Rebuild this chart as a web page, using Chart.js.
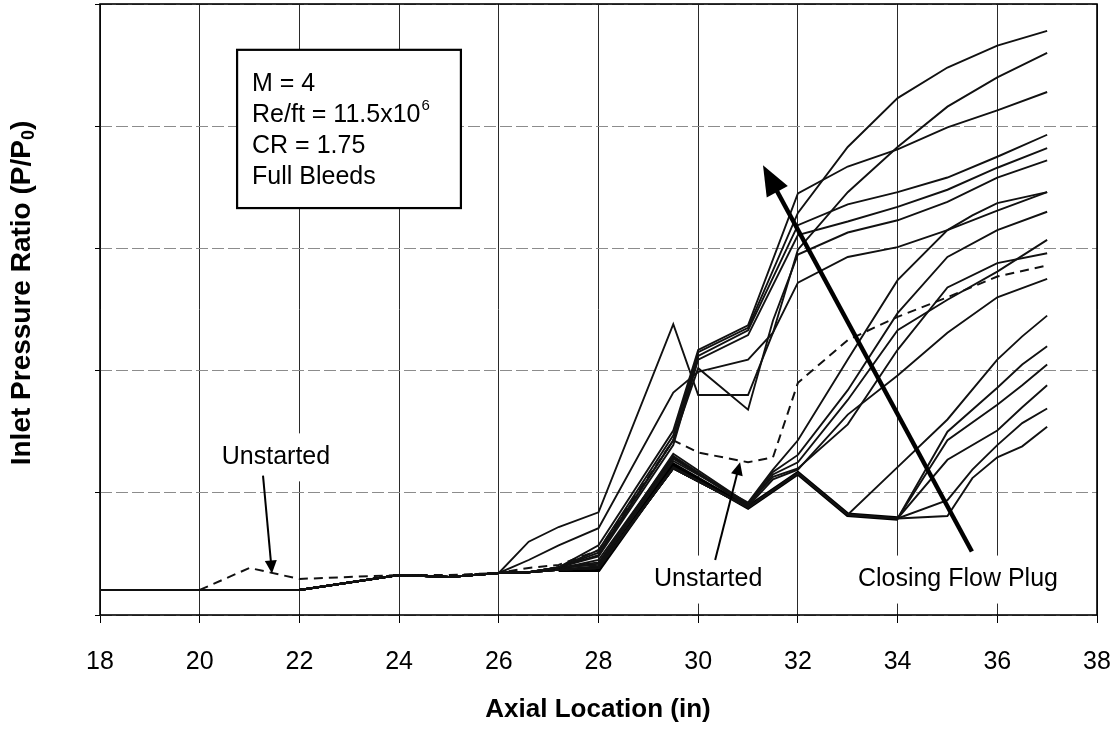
<!DOCTYPE html>
<html>
<head>
<meta charset="utf-8">
<script src="https://cdn.jsdelivr.net/npm/chart.js@4.4.0/dist/chart.umd.min.js"></script>
<style>
  html, body { margin: 0; padding: 0; background: #fff; }
  #plot { display: block; }
</style>
</head>
<body>
<canvas id="plot" width="1119" height="734"></canvas>
<script>
// axial stations (in) shared by all runs
const axialIn = [18, 20, 21, 22, 24, 25, 26, 26.6, 27.2, 28, 29.5, 30, 31, 31.5, 32, 33, 34, 35, 35.5, 36, 36.5, 37];
const xTicks = [18, 20, 22, 24, 26, 28, 30, 32, 34, 36, 38];

// P/P0 (arbitrary units, axis is unlabelled) upstream of 26.6 in, common to every solid run
const baseRun = [2.05, 2.05, null, 2.05, 3.27, 3.11, 3.44];

// runs from 26.6 in onward:  26.6 27.2 28 29.5 30 31 31.5 32 33 34 35 35.5 36 36.5 37
const startedRun = [null, 3.7, 3.7, 12.3, null, 8.8, null, 11.6, 8.2, 7.9, null, null, null, null, null];
const plugT1 = [3.5, 3.9, 5.7, 15.1, 21.7, 23.7, null, 34.5, 36.7, 38.1, 39.9, null, 41.3, null, 42.8];
const plugT2 = [3.5, 3.9, 5.3, 14.7, 21.5, 23.5, null, 32.9, 38.3, 42.3, 44.8, null, 46.6, null, 47.8];
const plugT3 = [3.5, 3.9, 5.1, 14.3, 21.2, 23.3, null, 31.9, 33.6, 34.6, 35.8, null, 37.5, null, 39.3];
const plugT4 = [3.5, 3.9, 4.8, 13.9, 20.9, 22.9, null, 31.1, 32.2, 33.4, 34.8, null, 36.6, null, 38.2];
const plugP = [6.0, 7.2, 8.4, 23.8, 18.0, 18.0, 23.1, 29.9, 34.6, 38.3, 41.6, null, 44.0, null, 46.0];
const plugQ = [4.5, 5.7, 7.1, 18.2, 19.9, 20.9, 23.1, 27.2, 29.3, 30.1, 31.5, null, 33.1, null, 34.6];
const plugV = [3.5, 3.9, 4.9, 14.3, 20.2, 16.8, 24.1, 29.5, 31.3, 32.3, 33.8, null, 35.8, null, 37.2];
const plugM1 = [3.5, 3.9, 4.1, 12.6, null, 9.2, 11.9, 14.3, 20.9, 27.4, 31.5, 32.7, 33.7, null, 34.6];
const plugM2 = [3.5, 3.9, 4.3, 12.8, null, 9.1, 11.7, 13.1, 18.4, 24.7, 29.3, null, 31.5, null, 33.0];
const plugM3 = [3.5, 3.8, 4.5, 13.0, null, 9.0, 11.5, 12.5, 17.6, 23.3, 25.8, null, 28.1, null, 30.7];
const plugM4 = [3.5, 3.8, 4.2, 13.2, null, 9.1, 11.3, 12.0, 15.6, 21.7, 26.8, null, 28.8, null, 29.6];
const plugM5 = [3.5, 3.7, 4.0, 12.9, null, 8.9, 11.1, 11.9, 16.4, 19.6, 23.1, null, 26.0, null, 27.5];
const plugC = [3.5, 3.7, 3.85, 12.1, null, 8.8, null, 11.6, 8.2, 12.1, 16.0, null, 20.9, 22.8, 24.5];
const plugL1 = [3.5, 3.7, 3.85, 12.0, null, 8.8, null, 11.6, 8.2, 7.9, 8.1, 11.2, 12.9, 13.8, 15.4];
const plugL2 = [3.5, 3.7, 3.85, 12.0, null, 8.8, null, 11.6, 8.2, 7.9, 9.4, 11.9, 13.9, 15.7, 16.9];
const plugL3 = [3.5, 3.7, 3.85, 12.0, null, 8.8, null, 11.6, 8.2, 7.9, 12.7, null, 15.1, 17.0, 18.8];
const plugL4 = [3.5, 3.7, 3.85, 12.0, null, 8.8, null, 11.6, 8.2, 7.9, 14.3, null, 17.2, 18.8, 20.5];
const plugL5 = [3.5, 3.7, 3.85, 12.0, null, 8.8, null, 11.6, 8.2, 7.9, 15.0, null, 18.6, 20.5, 22.0];

// unstarted run (dashed), full length
const unstartedRun = [null, 2.05, 3.85, 2.95, 3.27, 3.27, 3.44, 3.85, 4.1, 5.3, 14.3, 13.3, 12.5, 12.9, 19.0, 22.5, 24.4, 26.0, null, 27.7, null, 28.6];

// text
const xTitle = 'Axial Location (in)';
const yTitle = ['Inlet Pressure Ratio (P/P', '0', ')'];
const boxLines = ['M = 4', 'Re/ft = 11.5x10', 'CR = 1.75', 'Full Bleeds'];
const boxSup = '6';
const noteText = ['Unstarted', 'Unstarted', 'Closing Flow Plug'];

// annotation placement, in axis units
const notePos = [[21.53, 12.9], [30.2, 2.9], [35.21, 2.9]];
const noteArrows = [
  { from: [21.27, 11.4], to: [21.45, 3.4], width: 2, head: 13, half: 6 },
  { from: [30.34, 4.5], to: [30.84, 12.5], width: 2, head: 13, half: 6 },
  { from: [35.49, 5.2], to: [31.30, 36.8], width: 4.5, head: 30, half: 12 }
];
const boxCorners = [[20.75, 46.25], [25.24, 33.3]];
const boxTextX = 21.05;
const boxTextY = [43.45, 40.9, 38.35, 35.8];

const FONT = '"Liberation Sans", Arial, Helvetica, sans-serif';

const thinRuns = [plugT1, plugT2, plugT3, plugT4, plugP, plugQ, plugV,
  plugM1, plugM2, plugM3, plugM4, plugM5, plugC, plugL1, plugL2, plugL3, plugL4, plugL5];

function toPoints(vals) {
  return axialIn.map((x, i) => ({ x: x, y: vals[i] }));
}

const datasets = thinRuns.map(run => ({
  data: toPoints(baseRun.concat(run)),
  borderColor: '#111',
  borderWidth: 1.9
}));
// heavy started run only drawn where it separates from the upstream run
datasets.push({
  data: toPoints(baseRun.map(() => null).concat(startedRun)),
  borderColor: '#000',
  borderWidth: 4.5
});
datasets.push({
  data: toPoints(unstartedRun),
  borderColor: '#111',
  borderWidth: 2,
  borderDash: [9, 6]
});

function drawArrow(ctx, x0, y0, x1, y1, w, head, half) {
  const a = Math.atan2(y1 - y0, x1 - x0);
  const c = Math.cos(a), s = Math.sin(a);
  ctx.lineWidth = w;
  ctx.beginPath();
  ctx.moveTo(x0, y0);
  ctx.lineTo(x1 - c * head * 0.7, y1 - s * head * 0.7);
  ctx.stroke();
  ctx.beginPath();
  ctx.moveTo(x1, y1);
  ctx.lineTo(x1 - c * head + s * half, y1 - s * head - c * half);
  ctx.lineTo(x1 - c * head - s * half, y1 - s * head + c * half);
  ctx.closePath();
  ctx.fill();
}

const annotations = {
  id: 'annotations',
  beforeDatasetsDraw(chart) {
    const { ctx, chartArea: a, scales: { x, y } } = chart;
    ctx.save();
    // white patches behind the notes break the grid, as in the original
    ctx.font = '25px ' + FONT;
    ctx.fillStyle = '#fff';
    noteText.forEach((t, i) => {
      const w = ctx.measureText(t).width;
      const px = x.getPixelForValue(notePos[i][0]);
      const py = y.getPixelForValue(notePos[i][1]);
      ctx.fillRect(px - w / 2 - 8, py - 24, w + 16, 48);
    });
    // parameter box
    const bx0 = x.getPixelForValue(boxCorners[0][0]);
    const by0 = y.getPixelForValue(boxCorners[0][1]);
    const bx1 = x.getPixelForValue(boxCorners[1][0]);
    const by1 = y.getPixelForValue(boxCorners[1][1]);
    ctx.fillRect(bx0, by0, bx1 - bx0, by1 - by0);
    ctx.strokeStyle = '#000';
    ctx.lineWidth = 2.2;
    ctx.strokeRect(bx0, by0, bx1 - bx0, by1 - by0);
    // plot frame
    ctx.lineWidth = 1.6;
    ctx.strokeRect(a.left, a.top, a.right - a.left, a.bottom - a.top);
    ctx.restore();
  },
  afterDatasetsDraw(chart) {
    const { ctx, scales: { x, y } } = chart;
    ctx.save();
    ctx.fillStyle = '#000';
    ctx.strokeStyle = '#000';
    noteArrows.forEach(ar => {
      drawArrow(ctx,
        x.getPixelForValue(ar.from[0]), y.getPixelForValue(ar.from[1]),
        x.getPixelForValue(ar.to[0]), y.getPixelForValue(ar.to[1]),
        ar.width, ar.head, ar.half);
    });
    ctx.font = '25px ' + FONT;
    ctx.textAlign = 'center';
    ctx.textBaseline = 'middle';
    noteText.forEach((t, i) => {
      ctx.fillText(t, x.getPixelForValue(notePos[i][0]), y.getPixelForValue(notePos[i][1]));
    });
    // box text
    ctx.textAlign = 'left';
    const tx = x.getPixelForValue(boxTextX);
    boxLines.forEach((t, i) => {
      const ty = y.getPixelForValue(boxTextY[i]);
      ctx.font = '25px ' + FONT;
      ctx.fillText(t, tx, ty);
      if (i === 1) {
        const w = ctx.measureText(t).width;
        ctx.font = '15px ' + FONT;
        ctx.fillText(boxSup, tx + w + 1, ty - 9);
      }
    });
    ctx.restore();
  },
  afterDraw(chart) {
    const { ctx } = chart;
    ctx.save();
    ctx.fillStyle = '#000';
    ctx.textBaseline = 'middle';
    // x title
    ctx.font = 'bold 26px ' + FONT;
    ctx.textAlign = 'center';
    ctx.fillText(xTitle, 598, 710);
    // y title with subscript
    ctx.translate(22, 293);
    ctx.rotate(-Math.PI / 2);
    ctx.textAlign = 'left';
    const big = 'bold 28px ' + FONT, small = 'bold 18px ' + FONT;
    ctx.font = big;
    const w0 = ctx.measureText(yTitle[0]).width;
    const w2 = ctx.measureText(yTitle[2]).width;
    ctx.font = small;
    const w1 = ctx.measureText(yTitle[1]).width;
    let cx = -(w0 + w1 + w2) / 2;
    ctx.font = big;
    ctx.fillText(yTitle[0], cx, 0);
    cx += w0;
    ctx.font = small;
    ctx.fillText(yTitle[1], cx, 7);
    cx += w1;
    ctx.font = big;
    ctx.fillText(yTitle[2], cx, 0);
    ctx.restore();
  }
};

new Chart(document.getElementById('plot'), {
  type: 'line',
  data: { datasets: datasets },
  options: {
    responsive: false,
    animation: false,
    spanGaps: true,
    layout: { padding: { top: 4, right: 22, left: 0, bottom: 0 } },
    elements: {
      point: { radius: 0, hoverRadius: 0 },
      line: { tension: 0, fill: false }
    },
    plugins: {
      legend: { display: false },
      tooltip: { enabled: false },
      title: { display: false }
    },
    scales: {
      x: {
        type: 'linear',
        min: 18,
        max: 38,
        afterBuildTicks(s) { s.ticks = xTicks.map(v => ({ value: v })); },
        afterFit(s) {
          s.height = 119;
          s.paddingLeft = 0;
          s.paddingRight = 0;
        },
        ticks: {
          color: '#000',
          font: { family: FONT, size: 25 },
          padding: 24,
          maxRotation: 0,
          autoSkip: false
        },
        grid: { color: '#2a2a2a', lineWidth: 1, tickLength: 8, tickColor: '#000' },
        border: { display: false }
      },
      y: {
        min: 0,
        max: 50,
        afterFit(s) { s.width = 100; },
        ticks: { stepSize: 10, display: false },
        grid: { color: '#8c8c8c', lineWidth: 1, tickLength: 5, tickColor: '#000' },
        border: { display: false, dash: [12, 4] }
      }
    }
  },
  plugins: [annotations]
});
</script>
</body>
</html>
